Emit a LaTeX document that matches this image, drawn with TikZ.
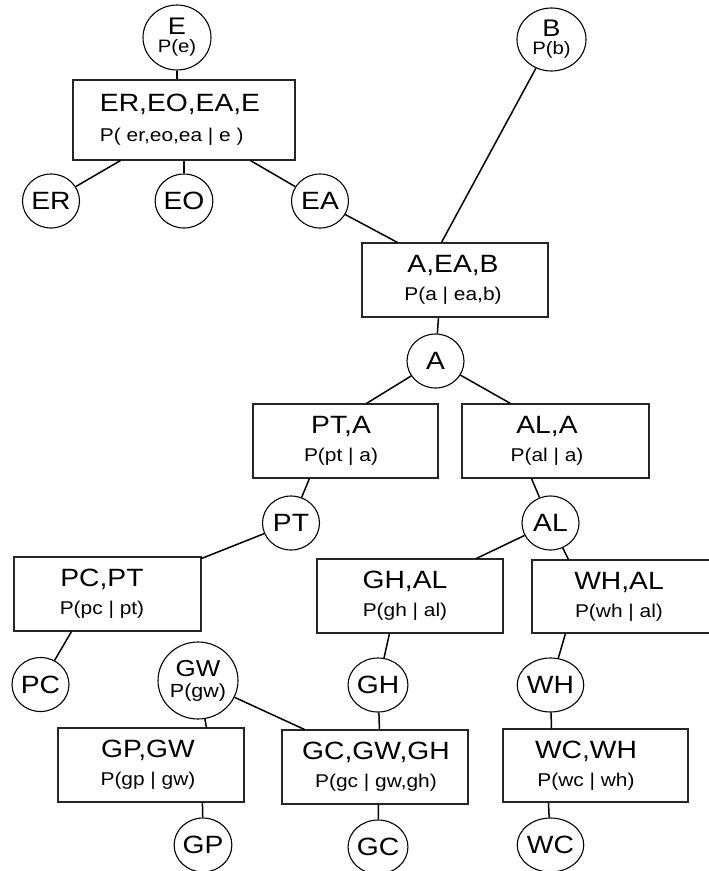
\documentclass[tikz,border=0pt]{standalone}
\usepackage{fontspec}
\setmainfont{Liberation Sans}[FakeStretch=1.13]
\usetikzlibrary{shapes.geometric}
\newcommand\boxtitle[1]{{\fontsize{25}{28}\selectfont #1}}
\newcommand\circtitle[1]{{\fontsize{24}{18}\selectfont #1}}
\tikzset{
  bx/.style={draw=black!85, line width=1.1pt, minimum width=186pt, minimum height=74pt, inner sep=0pt},
  bt/.style={align=center, inner sep=0pt, font=\fontsize{18.5}{28}\selectfont},
  cc/.style={ellipse, draw, line width=1.1pt, minimum width=57pt, minimum height=54pt, inner sep=0pt, font=\fontsize{25}{26}\selectfont},
  cc2/.style={cc, align=center, font=\fontsize{18}{18}\selectfont},
  ln/.style={line width=1.5pt}
}
\begin{document}
\begin{tikzpicture}[x=1pt,y=1pt]
\useasboundingbox (0,0) rectangle (709,-871);
% circles
\node[cc2, minimum width=68pt, minimum height=65pt] (E) at (177,-37.5) {\circtitle{E}\\P(e)};
\node[cc2, minimum width=69pt, minimum height=63pt] (B) at (551.5,-39.5) {\circtitle{B}\\P(b)};
\node[cc] (ER) at (51,-201) {ER};
\node[cc] (EO) at (184,-201) {EO};
\node[cc] (EA) at (320,-201) {EA};
\node[cc] (A) at (435.5,-361) {A};
\node[cc] (PT) at (291,-523) {PT};
\node[cc] (AL) at (550.5,-523) {AL};
\node[cc] (PC) at (40.5,-684.5) {PC};
\node[cc2, minimum width=80pt, minimum height=77pt, font=\fontsize{19}{21}\selectfont] (GW) at (198,-680.5) {{\fontsize{23}{21}\selectfont GW}\\P(gw)};
\node[cc] (GH) at (378,-685) {GH};
\node[cc] (WH) at (550.5,-685) {WH};
\node[cc] (GP) at (203,-845) {GP};
\node[cc] (GC) at (378,-847) {GC};
\node[cc] (WC) at (550.5,-845) {WC};
% boxes
\node[bx, minimum width=222pt, minimum height=80pt] (ERB) at (184,-120) {};
\node[bt, align=left] (ERBt) at (180,-120) {\boxtitle{ER,EO,EA,E}\\[2pt]P( er,eo,ea | e )};
\node[bx] (AEB) at (455,-280) {};
\node[bt] (AEBt) at (453,-280) {\boxtitle{A,EA,B}\\P(a | ea,b)};
\node[bx, minimum width=185pt] (PTA) at (345.5,-441) {};
\node[bt] (PTAt) at (341,-441) {\boxtitle{PT,A}\\P(pt | a)};
\node[bx, minimum width=187pt] (ALA) at (555.5,-441) {};
\node[bt] (ALAt) at (547,-441) {\boxtitle{AL,A}\\P(al | a)};
\node[bx, minimum width=187pt] (PCPT) at (107.5,-594) {};
\node[bt] (PCPTt) at (102,-594) {\boxtitle{PC,PT}\\P(pc | pt)};
\node[bx] (GHAL) at (410,-596) {};
\node[bt] (GHALt) at (405,-596) {\boxtitle{GH,AL}\\P(gh | al)};
\node[bx, minimum width=182pt, minimum height=73pt] (WHAL) at (623,-596.5) {};
\node[bt] (WHALt) at (619,-596.5) {\boxtitle{WH,AL}\\P(wh | al)};
\node[bx] (GPGW) at (151,-765) {};
\node[bt] (GPGWt) at (148,-765) {\boxtitle{GP,GW}\\P(gp | gw)};
\node[bx] (GCB) at (375,-767) {};
\node[bt] (GCBt) at (376,-767) {\boxtitle{GC,GW,GH}\\P(gc | gw,gh)};
\node[bx, minimum width=185pt, minimum height=73pt] (WCWH) at (595.5,-765.5) {};
\node[bt] (WCWHt) at (586,-765.5) {\boxtitle{WC,WH}\\P(wc | wh)};
% connectors
\draw[ln] (E) -- (E |- ERB.north);
\draw[ln] (ER) -- ([xshift=48pt]ERB.south west);
\draw[ln] (EO) -- (EO |- ERB.south);
\draw[ln] (EA) -- ([xshift=178pt]ERB.south west);
\draw[ln] (EA) -- ([xshift=36pt]AEB.north west);
\draw[ln] (B) -- ([xshift=80pt]AEB.north west);
\draw[ln] (A) -- ([xshift=77pt]AEB.south west);
\draw[ln] (A) -- ([xshift=114pt]PTA.north west);
\draw[ln] (A) -- ([xshift=49pt]ALA.north west);
\draw[ln] (PT) -- ([xshift=57pt]PTA.south west);
\draw[ln] (AL) -- ([xshift=70pt]ALA.south west);
\draw[ln] (PT) -- ([yshift=-2pt]PCPT.north east);
\draw[ln] (AL) -- ([xshift=160pt]GHAL.north west);
\draw[ln] (AL) -- ([xshift=37pt]WHAL.north west);
\draw[ln] (PC) -- ([xshift=58pt]PCPT.south west);
\draw[ln] (GH) -- ([xshift=73pt]GHAL.south west);
\draw[ln] (WH) -- ([xshift=34pt]WHAL.south west);
\draw[ln] (GW) -- ([xshift=149pt]GPGW.north west);
\draw[ln] (GW) -- ([xshift=23pt]GCB.north west);
\draw[ln] (GH) -- ([xshift=98pt]GCB.north west);
\draw[ln] (WH) -- ([xshift=49pt]WCWH.north west);
\draw[ln] (GP) -- ([xshift=145pt]GPGW.south west);
\draw[ln] (GC) -- ([xshift=97pt]GCB.south west);
\draw[ln] (WC) -- ([xshift=46pt]WCWH.south west);
\end{tikzpicture}
\end{document}
